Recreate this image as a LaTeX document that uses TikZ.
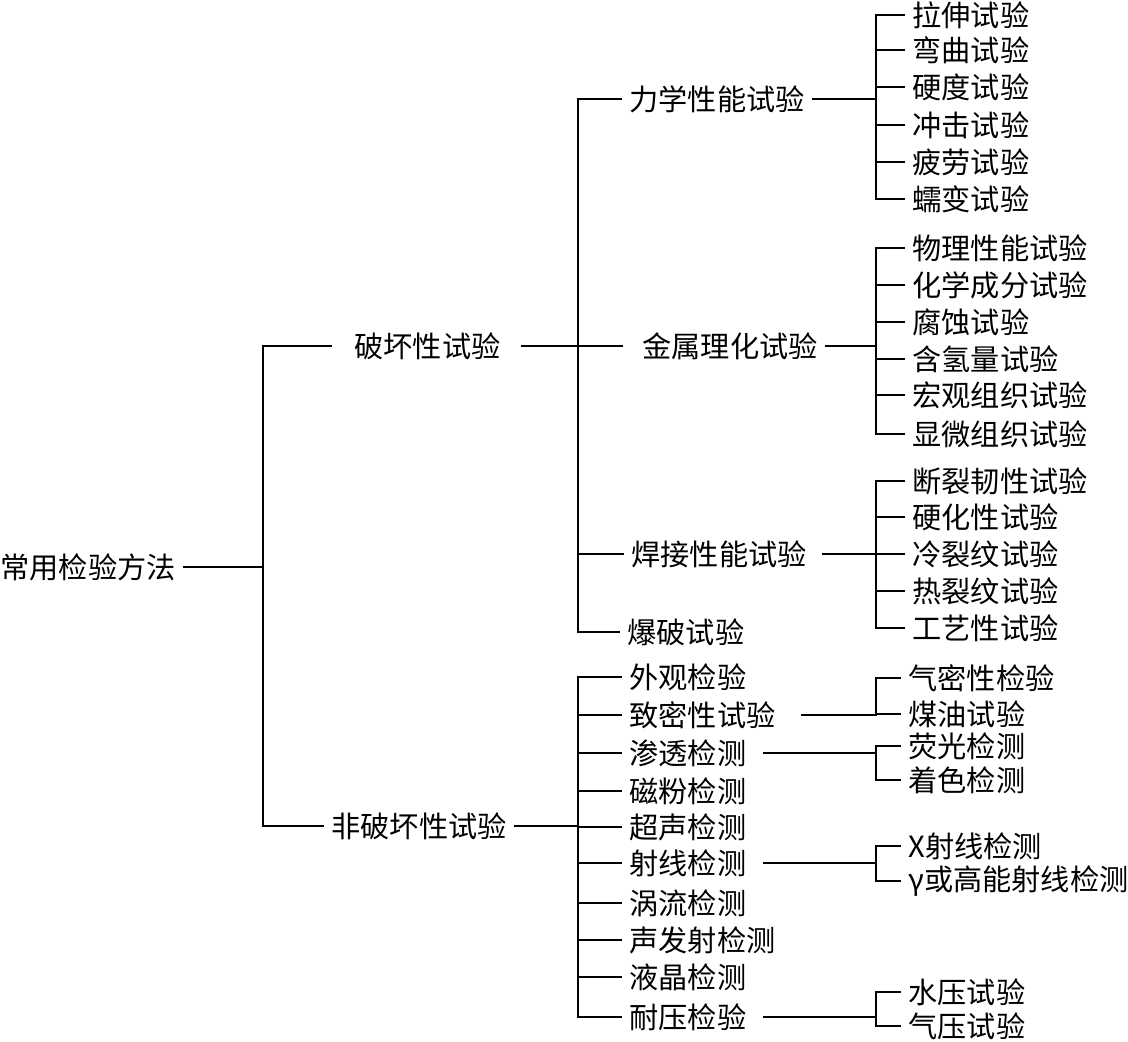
\documentclass[tikz,border=0pt]{standalone}
\usepackage{fontspec}
\newfontfamily\zhfont{Noto Sans CJK SC}
\usetikzlibrary{calc}
\tikzset{
  item/.style={
    anchor=west,
    inner xsep=4pt,
    inner ysep=1pt,
    font=\zhfont\fontsize{14.6}{17}\selectfont
  },
  link/.style={
    line width=1pt,
    line cap=rect,
    color=black
  }
}

\begin{document}
\begin{tikzpicture}[x=0.5pt, y=-0.5pt]
  \useasboundingbox (0,0) rectangle (1128,1042);

  %% ---- 根节点与两大类 ----
  \node[item] (root)     at (-8, 567)  {常用检验方法};
  \node[item] (destr)    at (346, 346) {破坏性试验};
  \node[item] (nondestr) at (323, 826) {非破坏性试验};
  \coordinate (bus0) at (263, 567);
  \draw[link] (root.east) -- (bus0);
  \draw[link, shorten <=7.5pt] (destr.west) -| (bus0) |- (nondestr.west);

  %% ---- 破坏性试验 ----
  \node[item] (mech)  at (621, 99)  {力学性能试验};
  \node[item] (chem)  at (634, 346) {金属理化试验};
  \node[item] (weld)  at (623, 554) {焊接性能试验};
  \node[item] (burst) at (619, 632) {爆破试验};
  \coordinate (bus1) at (578, 0);
  \draw[link, shorten <=6.5pt] (destr.east) -- (destr.east -| bus1);
  \draw[link] (mech.west -| bus1) -- (burst.west -| bus1);
  \foreach \n in {mech, weld, burst}
    \draw[link] (\n.west -| bus1) -- (\n.west);
  \draw[link, shorten >=6pt] (chem.west -| bus1) -- (chem.west);

  %% ---- 非破坏性试验 ----
  \coordinate (bus2) at (578, 0);
  \foreach \y/\t [count=\i] in {677/外观检验, 715/致密性试验, 753/渗透检测,
      791/磁粉检测, 827/超声检测, 863/射线检测, 903/涡流检测,
      940/声发射检测, 977/液晶检测, 1017/耐压检验}{
    \node[item] (nd\i) at (621, \y) {\t};
    \draw[link] (nd\i.west -| bus2) -- (nd\i.west);
  }
  \draw[link] (nd1.west -| bus2) -- (nd10.west -| bus2);
  \draw[link] (nondestr.east) -- (nondestr.east -| bus2);

  %% ---- 右侧分支（竖线位置）----
  \coordinate (bus3) at (876, 0);

  % 力学性能试验
  \foreach \y/\t [count=\i] in {15/拉伸试验, 50/弯曲试验, 87/硬度试验,
      125/冲击试验, 162/疲劳试验, 199/蠕变试验}{
    \node[item] (mech\i) at (904, \y) {\t};
    \draw[link] (mech\i.west -| bus3) -- (mech\i.west);
  }
  \draw[link] (mech1.west -| bus3) -- (mech6.west -| bus3);
  \draw[link] (mech.east) -- (mech.east -| bus3);

  % 金属理化试验
  \foreach \y/\t [count=\i] in {248/物理性能试验, 285/化学成分试验, 322/腐蚀试验,
      359/含氢量试验, 395/宏观组织试验, 434/显微组织试验}{
    \node[item] (chem\i) at (904, \y) {\t};
    \draw[link] (chem\i.west -| bus3) -- (chem\i.west);
  }
  \draw[link] (chem1.west -| bus3) -- (chem6.west -| bus3);
  \draw[link] (chem.east) -- (chem.east -| bus3);

  % 焊接性能试验
  \foreach \y/\t [count=\i] in {481/断裂韧性试验, 517/硬化性试验, 554/冷裂纹试验,
      591/热裂纹试验, 628/工艺性试验}{
    \node[item] (weld\i) at (904, \y) {\t};
    \draw[link] (weld\i.west -| bus3) -- (weld\i.west);
  }
  \draw[link] (weld1.west -| bus3) -- (weld5.west -| bus3);
  \draw[link, shorten <=4pt] (weld.east) -- (weld.east -| bus3);

  % 致密性试验
  \node[item] (tight1) at (900, 678) {气密性检验};
  \node[item] (tight2) at (900, 714) {煤油试验};
  \draw[link] (tight1.west) -| (tight1.west -| bus3) |- (tight2.west);
  \draw[link, shorten <=9pt] (nd2.east) -- (nd2.east -| bus3);

  % 渗透检测
  \node[item] (pen1) at (900, 746) {荧光检测};
  \node[item] (pen2) at (900, 780) {着色检测};
  \draw[link] (pen1.west) -| (pen1.west -| bus3) |- (pen2.west);
  \draw[link, shorten <=4.5pt] (nd3.east) -- (nd3.east -| bus3);

  % 射线检测
  \node[item] (ray1) at (900, 846) {X射线检测};
  \node[item] (ray2) at (900, 881) {γ或高能射线检测};
  \draw[link] (ray1.west) -| (ray1.west -| bus3) |- (ray2.west);
  \draw[link, shorten <=4.5pt] (nd6.east) -- (nd6.east -| bus3);

  % 耐压检验
  \node[item] (press1) at (900, 992)  {水压试验};
  \node[item] (press2) at (900, 1026) {气压试验};
  \draw[link] (press1.west) -| (press1.west -| bus3) |- (press2.west);
  \draw[link, shorten <=4.5pt] (nd10.east) -- (nd10.east -| bus3);

\end{tikzpicture}
\end{document}
